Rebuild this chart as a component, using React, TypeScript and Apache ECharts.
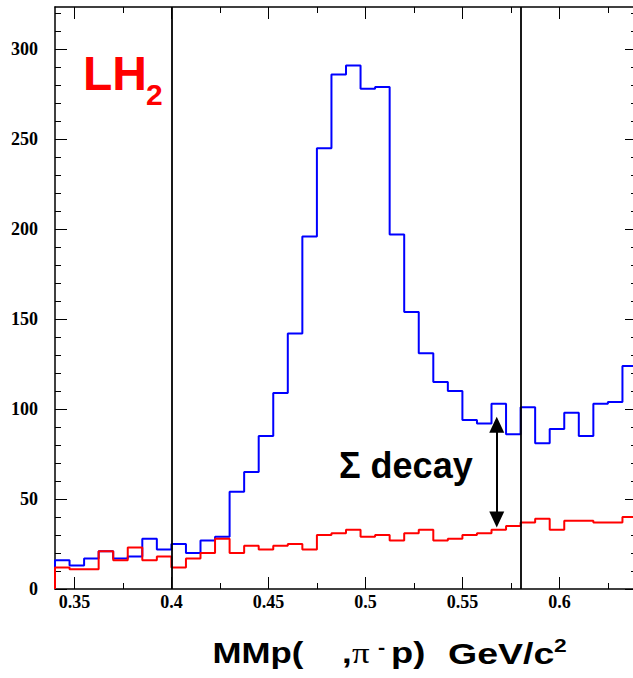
import React, { useEffect, useRef } from "react";
import * as echarts from "echarts";

// Histogram binning (x in GeV/c^2)
const BIN_START = 0.34;
const BIN_WIDTH = 0.0075;
const X_MIN = 0.34;
const X_MAX = 0.64;
const Y_MAX = 323.5;

// LH2 spectrum (blue)
const lh2Counts = [
  16, 13, 17, 21, 17, 18, 28, 22, 25, 20, 27, 29, 54, 65, 85, 109, 142, 196, 245, 286,
  291, 278, 279, 197, 154, 131, 115, 110, 94, 92, 103, 86, 101, 81, 89, 98, 85, 103, 104, 124,
];
// Background spectrum (red)
const bgCounts = [
  12, 11, 11, 21, 16, 23, 16, 18, 12, 17, 20, 28, 20, 24, 22, 24, 25, 22, 30, 31,
  33, 29, 30, 27, 31, 33, 27, 28, 30, 31, 33, 35, 37, 39, 33, 38, 38, 37, 37, 40,
];

const xMajorTicks = [0.35, 0.4, 0.45, 0.5, 0.55, 0.6];
const xMinorTicks = [0.375, 0.425, 0.475, 0.525, 0.575, 0.625];
const yMajorTicks = [0, 50, 100, 150, 200, 250, 300];
const yMinorTicks = [
  10, 20, 30, 40, 60, 70, 80, 90, 110, 120, 130, 140, 160, 170, 180, 190,
  210, 220, 230, 240, 260, 270, 280, 290, 310, 320,
];
const cutLines = [0.4, 0.58];
const arrowX = 0.5677;
const arrowTop = 91.3;
const arrowBottom = 38.7;

function histPoints(counts: number[]): number[][] {
  const pts: number[][] = [[BIN_START, 0]];
  counts.forEach((c, i) => pts.push([BIN_START + i * BIN_WIDTH, c]));
  pts.push([BIN_START + counts.length * BIN_WIDTH, counts[counts.length - 1]]);
  return pts;
}

export default function App() {
  const ref = useRef<HTMLDivElement>(null);
  useEffect(() => {
    if (!ref.current) return;
    const chart = echarts.init(ref.current, null, { renderer: "svg" });
    const black = "#000";
    const serifLabel = {
      fontFamily: "Liberation Serif",
      fontWeight: "bold" as const,
      fontSize: 18,
      color: black,
    };
    const xAxisBase = (pos: "bottom" | "top", major: boolean, labels: boolean) => ({
      type: "value" as const,
      position: pos,
      min: X_MIN,
      max: X_MAX,
      axisLine: { show: major, onZero: false, lineStyle: { color: black, width: 1.5 } },
      axisTick: {
        show: true,
        inside: true,
        length: major ? 12 : 6,
        customValues: major ? xMajorTicks : xMinorTicks,
        lineStyle: { color: black, width: 1 },
      },
      axisLabel: labels
        ? { show: true, customValues: xMajorTicks, margin: 4, formatter: (v: number) => String(v), ...serifLabel }
        : { show: false },
      splitLine: { show: false },
    });
    const yAxisBase = (pos: "left" | "right", major: boolean, labels: boolean) => ({
      type: "value" as const,
      position: pos,
      min: 0,
      max: Y_MAX,
      axisLine: { show: major, onZero: false, lineStyle: { color: black, width: 1.5 } },
      axisTick: {
        show: true,
        inside: true,
        length: major ? 12 : 6,
        customValues: major ? yMajorTicks : yMinorTicks,
        lineStyle: { color: black, width: 1 },
      },
      axisLabel: labels
        ? { show: true, customValues: yMajorTicks, margin: 17, ...serifLabel }
        : { show: false },
      splitLine: { show: false },
    });
    const sans = (size: number) => `bold ${size}px 'Liberation Sans'`;
    const titlePart = (text: string, x: number, y: number, font: string, sx = 1.2) => ({
      type: "text" as const,
      x,
      y,
      scaleX: sx,
      style: { text, fill: black, font, align: "left", verticalAlign: "middle" },
    });

    chart.setOption({
      animation: false,
      backgroundColor: "#fff",
      grid: { left: 55, right: 3, top: 7, bottom: 89, containLabel: false },
      xAxis: [
        xAxisBase("bottom", true, true),
        xAxisBase("bottom", false, false),
        xAxisBase("top", true, false),
        xAxisBase("top", false, false),
      ],
      yAxis: [
        yAxisBase("left", true, true),
        yAxisBase("left", false, false),
        yAxisBase("right", true, false),
        yAxisBase("right", false, false),
      ],
      series: [
        {
          type: "line",
          name: "LH2",
          step: "end",
          data: histPoints(lh2Counts),
          showSymbol: false,
          symbol: "none",
          lineStyle: { color: "#0000ff", width: 2 },
          z: 3,
          markLine: {
            silent: true,
            symbol: "none",
            label: { show: false },
            lineStyle: { color: black, width: 1.8, type: "solid" },
            data: cutLines.map((v) => ({ xAxis: v })),
          },
        },
        {
          type: "line",
          name: "background",
          step: "end",
          data: histPoints(bgCounts),
          showSymbol: false,
          symbol: "none",
          lineStyle: { color: "#ff0000", width: 2 },
          z: 4,
          markLine: {
            silent: true,
            symbol: ["triangle", "triangle"],
            symbolSize: [15, 16],
            label: { show: false },
            lineStyle: { color: black, width: 2, type: "solid" },
            itemStyle: { color: black },
            data: [[{ coord: [arrowX, arrowTop] }, { coord: [arrowX, arrowBottom] }]],
          },
        },
      ],
      graphic: [
        {
          type: "text",
          x: 83,
          y: 73,
          style: { text: "LH", fill: "#ff0000", font: sans(48), align: "left", verticalAlign: "middle" },
        },
        {
          type: "text",
          x: 146,
          y: 94,
          style: { text: "2", fill: "#ff0000", font: sans(30), align: "left", verticalAlign: "middle" },
        },
        {
          type: "text",
          x: 339,
          y: 465,
          style: { text: "Σ decay", fill: black, font: sans(36), align: "left", verticalAlign: "middle" },
        },
        titlePart("MMp(", 212.5, 653, sans(29)),
        titlePart(",", 342, 653, sans(29)),
        titlePart("π", 352, 653, "29px 'Liberation Serif'"),
        titlePart("-", 378, 648, sans(18)),
        titlePart("p)", 391, 653, sans(29), 1.25),
        titlePart("GeV/c", 448, 653, sans(30), 1.25),
        titlePart("2", 554, 645, sans(19)),
      ],
    });
    return () => chart.dispose();
  }, []);
  return (
    <div style={{ position: "fixed", left: 0, top: 0, width: 633, height: 678, overflow: "hidden", background: "#fff" }}>
      <div ref={ref} style={{ width: 640, height: 678 }} />
    </div>
  );
}
